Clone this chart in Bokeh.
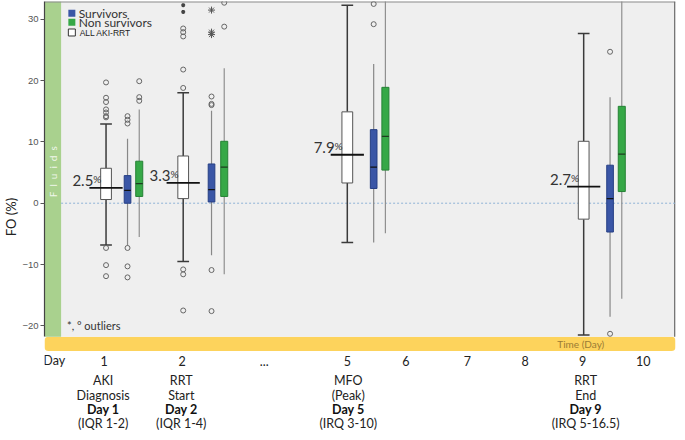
import math
from bokeh.plotting import figure
from bokeh.models import Range1d, BoxAnnotation, FixedTicker
from bokeh.core.properties import value
from bokeh.embed import file_html
from bokeh.resources import INLINE

# ---------------- data ----------------
groups = ["Day 1", "Day 2", "Day 5", "Day 9"]
mean_all = [2.5, 3.3, 7.9, 2.7]
mean_labels = ["2.5", "3.3", "7.9", "2.7"]

# ALL AKI-RRT (white)
all_lo = [-6.8, -9.5, -6.4, -21.5]
all_q1 = [0.6, 0.75, 3.3, -2.6]
all_q3 = [5.7, 7.7, 14.9, 10.1]
all_hi = [12.9, 18.0, 32.3, 27.7]

# Survivors (blue)
surv_lo = [-6.9, -8.5, -6.4, -18.5]
surv_q1 = [0.0, 0.2, 2.4, -4.7]
surv_med = [2.1, 2.2, 5.9, 0.75]
surv_q3 = [4.5, 6.4, 12.0, 6.2]
surv_hi = [10.5, 15.1, 22.7, 17.3]

# Non survivors (green)
non_lo = [-5.5, -11.6, -4.9, -15.6]
non_q1 = [1.1, 1.1, 5.4, 1.9]
non_med = [3.2, 5.9, 10.9, 8.0]
non_q3 = [6.85, 10.1, 18.9, 15.8]
non_hi = [15.3, 22.0, 40.0, 40.0]

# outliers (group index, value)
all_out_g = [0, 0, 0, 0, 0, 0, 0, 0, 0, 0, 1, 1, 1, 1, 1, 1, 1, 1]
all_out_v = [19.7, 17.2, 16.5, 15.3, 14.8, 14.2, 14.0, -7.3, -10.1, -11.9,
             18.8, 21.8, 28.5, 27.9, 27.2, -10.8, -11.6, -17.5]
all_ext_g = [1, 1]
all_ext_v = [32.3, 31.2]
surv_out_g = [0, 0, 0, 0, 0, 0, 1, 1, 1, 1, 1, 2, 2, 3, 3]
surv_out_v = [14.2, 13.6, 13.0, -7.3, -10.3, -12.1, 17.4, 16.2, 16.0, -10.9, -17.6,
              32.5, 29.2, 24.7, -21.3]
surv_ext_g = [1, 1, 1]
surv_ext_v = [31.5, 27.9, 27.5]
non_out_g = [0, 0, 0, 1, 1]
non_out_v = [19.9, 17.3, 16.7, 32.7, 28.8]

y_ticks = [-20, -10, 0, 10, 20, 30]
tick_days = ["1", "2", "...", "5", "6", "7", "8", "9", "10"]
event_name1 = ["AKI", "RRT", "MFO", "RRT"]
event_name2 = ["Diagnosis", "Start", "(Peak)", "End"]
event_day = ["Day 1", "Day 2", "Day 5", "Day 9"]
event_iqr = ["(IQR 1-2)", "(IQR 1-4)", "(IRQ 3-10)", "(IRQ 5-16.5)"]

# ---------------- layout (positions) ----------------
x_all = [100, 179, 347, 589]
x_surv = [122, 208, 374, 616]
x_non = [134, 221, 386, 628]
tick_x = [98, 178, 262, 347, 407, 470, 529, 588, 650]
event_x = [97, 177, 348, 591]

Y_TOP = 32.9
Y_AX_BOT = -21.8
Y_BAND_BOT = -24.1
PPU = 6.23


def ry(ref_y):
    return Y_TOP - (ref_y - 2) / PPU


X0, X1 = 37, 683
FONT = value("Lato")

p = figure(width=677, height=432, output_backend="svg", toolbar_location=None,
           x_range=Range1d(X0, X1), y_range=Range1d(-37.4, Y_TOP),
           x_axis_location=None, min_border_top=1, min_border_bottom=0,
           min_border_left=0, min_border_right=2)
p.background_fill_color = "white"
p.border_fill_color = "white"
p.outline_line_color = None
p.grid.visible = False

# plot area
p.quad(left=[X0], right=[X1], bottom=[Y_AX_BOT], top=[Y_TOP],
       fill_color="#efefef", line_color=None)
p.quad(left=[X0], right=[54], bottom=[Y_AX_BOT], top=[Y_TOP],
       fill_color="#a9d18e", line_color=None)
p.segment(x0=[X0], y0=[Y_TOP - 0.05], x1=[X1], y1=[Y_TOP - 0.05], line_color="#8c8c8c", line_width=1.5)
p.segment(x0=[X1 - 0.7], y0=[Y_AX_BOT], x1=[X1 - 0.7], y1=[Y_TOP], line_color="#6e6e6e", line_width=1.5)
p.add_layout(BoxAnnotation(left=X0, right=X1, bottom=Y_BAND_BOT, top=Y_AX_BOT,
                           fill_color="#fdd35c", fill_alpha=1, line_color=None,
                           border_radius=4, level="underlay"))
p.segment(x0=[54], y0=[0], x1=[X1], y1=[0], line_color="#8fb3d6", line_dash="2 2", line_width=1)

# y axis
yax = p.yaxis[0]
yax.bounds = (Y_AX_BOT, Y_TOP)
yax.ticker = FixedTicker(ticks=y_ticks)
yax.axis_label = "FO (%)"
yax.axis_label_text_font = "Lato"
yax.axis_label_text_font_size = "13px"
yax.axis_label_text_font_style = "normal"
yax.axis_label_text_color = "#222222"
yax.axis_label_standoff = 0
yax.major_label_text_font_size = "9.5px"
yax.major_label_text_color = "#555555"
yax.major_label_standoff = 2
yax.major_tick_out = 4
yax.major_tick_in = 0
yax.minor_tick_line_color = None
yax.axis_line_color = "#444444"
yax.axis_line_width = 1.2
yax.major_tick_line_color = "#555555"

# ALL AKI-RRT boxes (white)
p.segment(x0=x_all, y0=all_q3, x1=x_all, y1=all_hi, line_color="#3a3a3a", line_width=1.5)
p.segment(x0=x_all, y0=all_lo, x1=x_all, y1=all_q1, line_color="#3a3a3a", line_width=1.5)
p.segment(x0=[x - 6 for x in x_all], y0=all_hi, x1=[x + 6 for x in x_all], y1=all_hi,
          line_color="#3a3a3a", line_width=1.5)
p.segment(x0=[x - 6 for x in x_all], y0=all_lo, x1=[x + 6 for x in x_all], y1=all_lo,
          line_color="#3a3a3a", line_width=1.5)
p.quad(left=[x - 5.5 for x in x_all], right=[x + 5.5 for x in x_all], bottom=all_q1, top=all_q3,
       fill_color="white", line_color="#555555", line_width=1)

# Survivors (blue)
p.segment(x0=x_surv, y0=surv_lo, x1=x_surv, y1=surv_hi, line_color="#888888", line_width=1.2)
p.quad(left=[x - 3.4 for x in x_surv], right=[x + 3.4 for x in x_surv], bottom=surv_q1, top=surv_q3,
       fill_color="#3a56a6", line_color="#263f84", line_width=1)
p.segment(x0=[x - 3.4 for x in x_surv], y0=surv_med, x1=[x + 3.4 for x in x_surv], y1=surv_med,
          line_color="#111111", line_width=1.3)

# Non survivors (green)
p.segment(x0=x_non, y0=non_lo, x1=x_non, y1=non_hi, line_color="#909090", line_width=1.2)
p.quad(left=[x - 3.6 for x in x_non], right=[x + 3.6 for x in x_non], bottom=non_q1, top=non_q3,
       fill_color="#36a847", line_color="#258235", line_width=1)
p.segment(x0=[x - 3.6 for x in x_non], y0=non_med, x1=[x + 3.6 for x in x_non], y1=non_med,
          line_color="#1d3d1f", line_width=1.3)

# outliers
p.scatter(x=[x_all[g] for g in all_out_g], y=all_out_v, marker="circle", size=5,
          fill_color=None, line_color="#666666", line_width=1)
p.scatter(x=[x_surv[g] for g in surv_out_g], y=surv_out_v, marker="circle", size=5,
          fill_color=None, line_color="#666666", line_width=1)
p.scatter(x=[x_non[g] for g in non_out_g], y=non_out_v, marker="circle", size=5,
          fill_color=None, line_color="#666666", line_width=1)
p.scatter(x=[x_all[g] for g in all_ext_g], y=all_ext_v, marker="asterisk", size=4,
          line_color="#444444", line_width=1.2)
p.scatter(x=[x_surv[g] for g in surv_ext_g], y=surv_ext_v, marker="asterisk", size=7,
          line_color="#555555", line_width=1)

# mean lines + labels
p.segment(x0=[x - 17 for x in x_all], y0=mean_all, x1=[x + 17 for x in x_all], y1=mean_all,
          line_color="#111111", line_width=1.8)
p.text(x=[x - 13 for x in x_all], y=mean_all, text=mean_labels, text_align="right",
       text_baseline="bottom", text_font=FONT, text_font_size="15px", text_color="#333333",
       y_offset=-2)
p.text(x=[x - 13 for x in x_all], y=mean_all, text=["%"] * 4, text_align="left",
       text_baseline="bottom", text_font=FONT, text_font_size="10px", text_color="#333333",
       y_offset=-3)

# legend
p.scatter(x=[65, 65], y=[ry(14), ry(23)], marker="square", size=7,
          fill_color=["#3a56a6", "#36a847"], line_color=None)
p.scatter(x=[65], y=[ry(33.5)], marker="square", size=7, fill_color="white",
          line_color="#333333", line_width=1)
p.text(x=[72, 72], y=[ry(14.5), ry(23.5)], text=["Survivors", "Non survivors"],
       text_baseline="middle", text_font=FONT, text_font_size="12px", text_color="#333333")
p.text(x=[73], y=[ry(34)], text=["ALL AKI-RRT"], text_baseline="middle",
       text_font=value("Liberation Sans"), text_font_size="8.5px", text_color="#222222")

p.text(x=[60], y=[ry(331)], text=["*, \u00b0 outliers"], text_baseline="middle",
       text_font=FONT, text_font_size="11px", text_color="#333333")
sp = "\u2002"
p.text(x=[46], y=[ry(175)], text=[sp.join("Fluids")], angle=math.pi / 2, text_align="center",
       text_baseline="middle", text_font=FONT, text_font_size="10px", text_color="white",
       text_alpha=0.85)
p.text(x=[562], y=[ry(350)], text=["Time (Day)"], text_baseline="middle",
       text_font=FONT, text_font_size="10px", text_color="#9a7b35")

# bottom day labels
p.text(x=[47], y=[ry(367)], text=["Day"], text_align="center", text_baseline="middle",
       text_font=FONT, text_font_size="12.5px", text_color="#222222")
p.text(x=tick_x, y=[ry(367)] * len(tick_x), text=tick_days, text_align="center",
       text_baseline="middle", text_font=FONT, text_font_size="12.5px", text_color="#222222")
p.text(x=event_x, y=[ry(387)] * 4, text=event_name1, text_align="center",
       text_baseline="middle", text_font=FONT, text_font_size="12.5px", text_color="#222222")
p.text(x=event_x, y=[ry(402)] * 4, text=event_name2, text_align="center",
       text_baseline="middle", text_font=FONT, text_font_size="12.5px", text_color="#222222")
p.text(x=event_x, y=[ry(416.5)] * 4, text=event_day, text_align="center",
       text_baseline="middle", text_font=FONT, text_font_size="12.5px", text_font_style="bold",
       text_color="#111111")
p.text(x=event_x, y=[ry(431)] * 4, text=event_iqr, text_align="center",
       text_baseline="middle", text_font=FONT, text_font_size="12.5px", text_color="#222222")

open("out.html", "w").write(file_html(p, INLINE))
